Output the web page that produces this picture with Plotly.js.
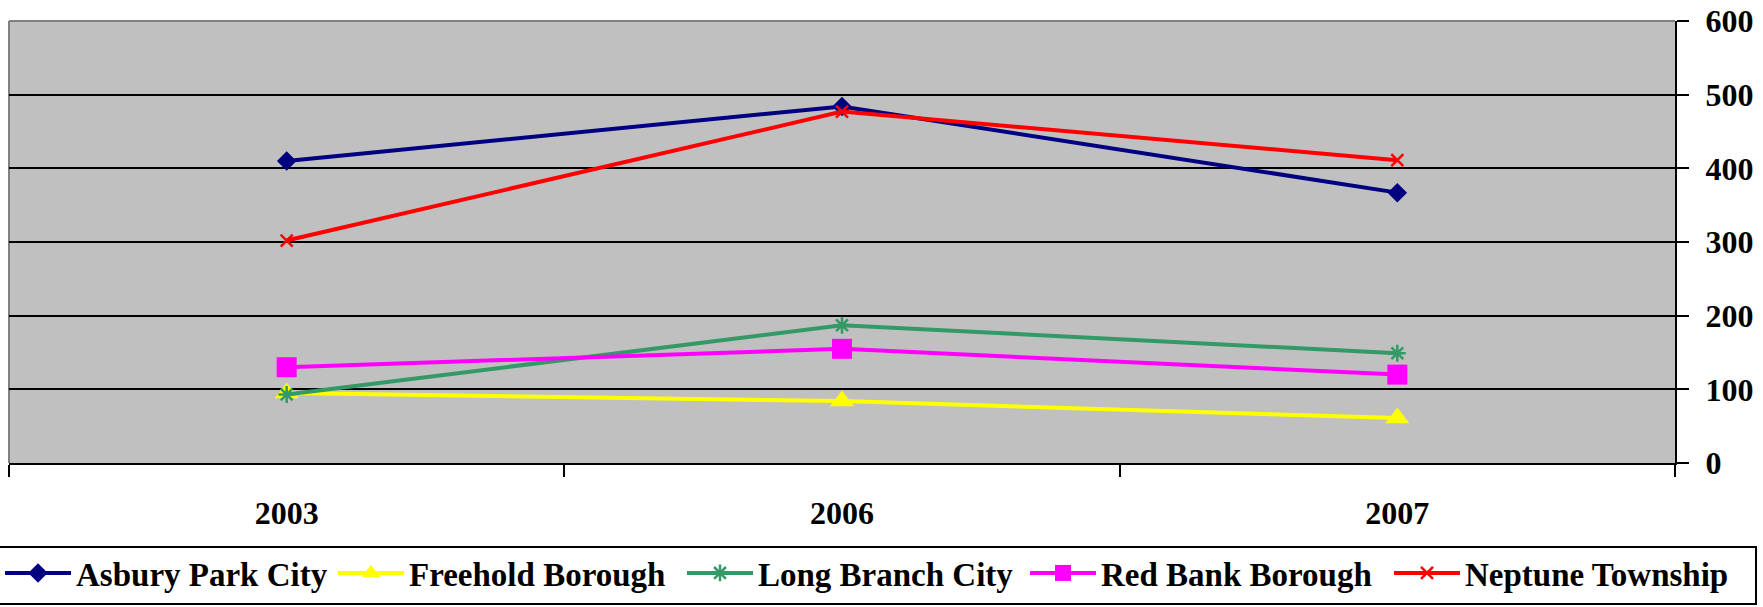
<!DOCTYPE html>
<html>
<head>
<meta charset="utf-8">
<script src="https://cdn.plot.ly/plotly-3.0.1.min.js"></script>
<style>html,body{margin:0;padding:0;background:#fff;}#chart{width:1763px;height:607px;}</style>
</head>
<body>
<div id="chart"></div>
<script>
const years = ['2003', '2006', '2007'];
const asburyPark = [410, 484, 367];
const freehold = [95, 84, 61];
const longBranch = [93, 187, 149];
const redBank = [130, 155, 120];
const neptune = [302, 477, 411];
const yTicks = [0, 100, 200, 300, 400, 500, 600];

const W = 1763, H = 607;
const FAMILY = 'Liberation Serif, Times New Roman, serif';
const FONT = {family: FAMILY, size: 32, color: '#000', weight: 'bold'};
const LEGEND_FONT = {family: FAMILY, size: 33, color: '#000', weight: 'bold'};

const series = [
  {name: 'Asbury Park City', y: asburyPark, color: '#000080', symbol: 'diamond', size: 15, lw: 0, legendX: 0},
  {name: 'Freehold Borough', y: freehold, color: '#FFFF00', symbol: 'triangle-up', size: 21, lw: 0, legendX: 333},
  {name: 'Long Branch City', y: longBranch, color: '#339966', symbol: 'asterisk-open', size: 14, lw: 2.5, legendX: 682},
  {name: 'Red Bank Borough', y: redBank, color: '#FF00FF', symbol: 'square', size: 20, lw: 0, legendX: 1025},
  {name: 'Neptune Township', y: neptune, color: '#FF0000', symbol: 'x-thin-open', size: 12, lw: 2.5, legendX: 1389}
];

const traces = series.map((t, i) => ({
  type: 'scatter',
  mode: 'lines+markers',
  name: t.name,
  x: years,
  y: t.y,
  legend: i === 0 ? 'legend' : 'legend' + (i + 1),
  line: {color: t.color, width: 4},
  marker: {symbol: t.symbol, size: t.size, color: t.color, line: {color: t.color, width: t.lw}},
  cliponaxis: false
}));

const margin = {l: 9, r: 88, t: 21, b: 144, pad: 0};
const plotW = W - margin.l - margin.r;
const plotH = H - margin.t - margin.b;
const px2paperX = p => (p - margin.l) / plotW;
const px2paperY = q => (H - margin.b - q) / plotH;

const layout = {
  width: W,
  height: H,
  margin: margin,
  paper_bgcolor: '#ffffff',
  plot_bgcolor: '#C0C0C0',
  font: FONT,
  showlegend: true,
  xaxis: {
    type: 'category',
    range: [-0.5, 2.5],
    tickson: 'boundaries',
    ticks: 'outside',
    ticklen: 12,
    tickwidth: 2,
    tickcolor: '#000',
    showline: true,
    linecolor: '#000',
    linewidth: 2,
    showgrid: false,
    zeroline: false,
    tickfont: FONT,
    ticklabelstandoff: 21,
    fixedrange: true
  },
  yaxis: {
    side: 'right',
    range: [0, 600],
    tickvals: yTicks,
    ticktext: yTicks.map(String),
    ticks: 'outside',
    ticklen: 12,
    tickwidth: 2,
    tickcolor: '#000',
    showline: true,
    linecolor: '#000',
    linewidth: 2,
    showgrid: true,
    gridcolor: '#000',
    gridwidth: 2,
    zeroline: false,
    tickfont: FONT,
    ticklabelstandoff: 10,
    fixedrange: true
  },
  shapes: [
    {type: 'line', xref: 'paper', yref: 'paper', x0: 0, x1: 0, y0: 0, y1: 1, line: {color: '#808080', width: 2}, layer: 'below'},
    {type: 'line', xref: 'paper', yref: 'paper', x0: 0, x1: 1, y0: 1, y1: 1, line: {color: '#808080', width: 2}, layer: 'below'},
    {type: 'rect', xref: 'paper', yref: 'paper',
     x0: px2paperX(-2), x1: px2paperX(1756), y0: px2paperY(604), y1: px2paperY(547),
     line: {color: '#000', width: 2}, fillcolor: 'rgba(0,0,0,0)'}
  ]
};

series.forEach((t, i) => {
  const key = i === 0 ? 'legend' : 'legend' + (i + 1);
  layout[key] = {
    orientation: 'h',
    xref: 'container',
    yref: 'container',
    x: t.legendX / W,
    y: 1 - 545 / H,
    xanchor: 'left',
    yanchor: 'top',
    bgcolor: 'rgba(0,0,0,0)',
    borderwidth: 0,
    font: LEGEND_FONT,
    itemwidth: 66
  };
});

Plotly.newPlot('chart', traces, layout, {displayModeBar: false, staticPlot: true});
</script>
</body>
</html>
